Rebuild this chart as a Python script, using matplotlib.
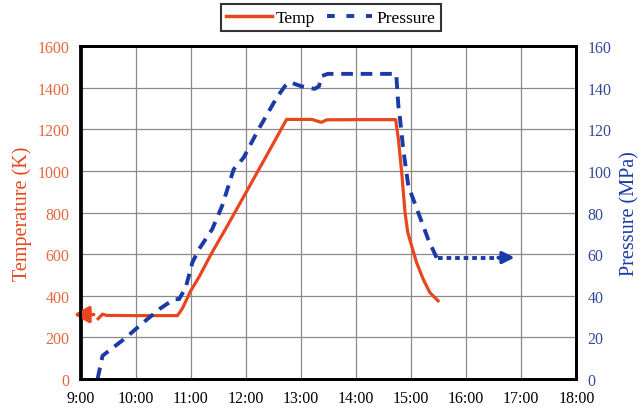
import matplotlib
matplotlib.use("Agg")
import matplotlib.pyplot as plt
from matplotlib.lines import Line2D

plt.rcParams['font.family'] = ['Liberation Serif', 'DejaVu Serif']

# ---- data (hours of day) ----
temp_time = [9.32, 9.40, 9.47, 10.0, 10.5, 10.76, 10.85, 11.0, 11.15, 11.39, 11.63,
             12.0, 12.4, 12.74, 13.2, 13.37, 13.47, 14.0, 14.5, 14.72,
             14.77, 14.83, 14.89, 14.94, 15.01, 15.10, 15.22, 15.34, 15.49]
temp_vals = [290, 312, 306, 305, 305, 305, 340, 424, 490, 610, 720,
             895, 1085, 1248, 1248, 1234, 1246, 1247, 1247, 1247,
             1152, 992, 800, 704, 640, 560, 480, 416, 376]

pres_time = [9.31, 9.40, 9.83, 10.07, 10.43, 10.70, 10.79, 10.91, 11.03, 11.15,
             11.39, 11.57, 11.78, 11.96, 12.23, 12.56, 12.71, 12.80, 13.0, 13.25,
             13.33, 13.37, 13.49, 14.0, 14.5, 14.73,
             14.77, 14.80, 14.86, 14.95, 15.13, 15.31, 15.49]
pres_vals = [0, 11.2, 20, 25.6, 33.6, 38.4, 38.4, 44, 56, 62.4,
             72, 83.2, 100.8, 106.4, 120, 135.2, 140.8, 142.7, 140.8, 139.5,
             140.8, 145.6, 146.7, 146.7, 146.7, 146.7,
             131, 125, 110, 92.8, 80, 67.2, 56.8]

pres_tail_time = [15.49, 16.62]
pres_tail_vals = [58.4, 58.4]
pres_arrow = (16.58, 16.88, 58.4)   # tail start, tip, value
temp_arrow = (9.24, 8.88, 310)       # tail start, tip, value

xticks = [9, 10, 11, 12, 13, 14, 15, 16, 17, 18]
xticklabels = ['9:00', '10:00', '11:00', '12:00', '13:00', '14:00', '15:00',
               '16:00', '17:00', '18:00']
yticks_t = [0, 200, 400, 600, 800, 1000, 1200, 1400, 1600]
yticks_p = [0, 20, 40, 60, 80, 100, 120, 140, 160]

RED = '#E8461E'
RED_TXT = '#E5683C'
BLUE = '#1A3AA8'
BLUE_TXT = '#34489E'

fig = plt.figure(figsize=(6.44, 4.14), dpi=100)
ax = fig.add_axes([0.125, 0.082, 0.770, 0.804])
ax2 = ax.twinx()

ax.set_xlim(9, 18)
ax.set_ylim(0, 1600)
ax2.set_ylim(0, 160)

ax.set_xticks(xticks)
ax.set_xticklabels(xticklabels, fontsize=11.5)
ax.set_yticks(yticks_t)
ax.set_yticklabels([str(v) for v in yticks_t], fontsize=11.5, color=RED_TXT)
ax2.set_yticks(yticks_p)
ax2.set_yticklabels([str(v) for v in yticks_p], fontsize=11.5, color=BLUE_TXT)
ax.tick_params(length=0, pad=8)
ax2.tick_params(length=0, pad=8)

ax.grid(True, color='#8a8a8a', linewidth=0.9)
ax.set_axisbelow(True)
for sp in ax.spines.values():
    sp.set_linewidth(2.0)
    sp.set_color('black')
for sp in ax2.spines.values():
    sp.set_linewidth(2.0)

ax.set_ylabel('Temperature (K)', fontsize=14.5, color=RED, labelpad=4)
ax2.set_ylabel('Pressure (MPa)', fontsize=14.5, color=BLUE, labelpad=6)

ax.plot(temp_time, temp_vals, color=RED, linewidth=2.3, solid_joinstyle='round')
ax2.plot(pres_time, pres_vals, color=BLUE, linewidth=2.8, linestyle=(0, (3, 2)))
ax2.plot(pres_tail_time, pres_tail_vals, color=BLUE, linewidth=2.8, linestyle=(0, (1.2, 1)))

ax.annotate('', xy=(temp_arrow[1], temp_arrow[2]), xytext=(temp_arrow[0], temp_arrow[2]),
            arrowprops=dict(arrowstyle='-|>,head_length=0.9,head_width=0.5',
                            color=RED, lw=2.5, shrinkA=0, shrinkB=0),
            annotation_clip=False)
ax2.annotate('', xy=(pres_arrow[1], pres_arrow[2]), xytext=(pres_arrow[0], pres_arrow[2]),
             arrowprops=dict(arrowstyle='-|>,head_length=0.7,head_width=0.35',
                             color=BLUE, lw=2.5, shrinkA=0, shrinkB=0),
             annotation_clip=False)

handles = [Line2D([], [], color=RED, linewidth=2.5),
           Line2D([], [], color=BLUE, linewidth=2.8, linestyle=(0, (2, 3)))]
leg = fig.legend(handles, ['Temp', 'Pressure'], ncol=2, loc='upper center',
                 bbox_to_anchor=(0.514, 0.988), fontsize=12.5, frameon=True,
                 fancybox=False, edgecolor='black', handlelength=2.6,
                 handletextpad=0.25, columnspacing=0.7, borderpad=0.32,
                 borderaxespad=0)
leg.get_frame().set_linewidth(1.5)

fig.savefig('out.png', dpi=100)
